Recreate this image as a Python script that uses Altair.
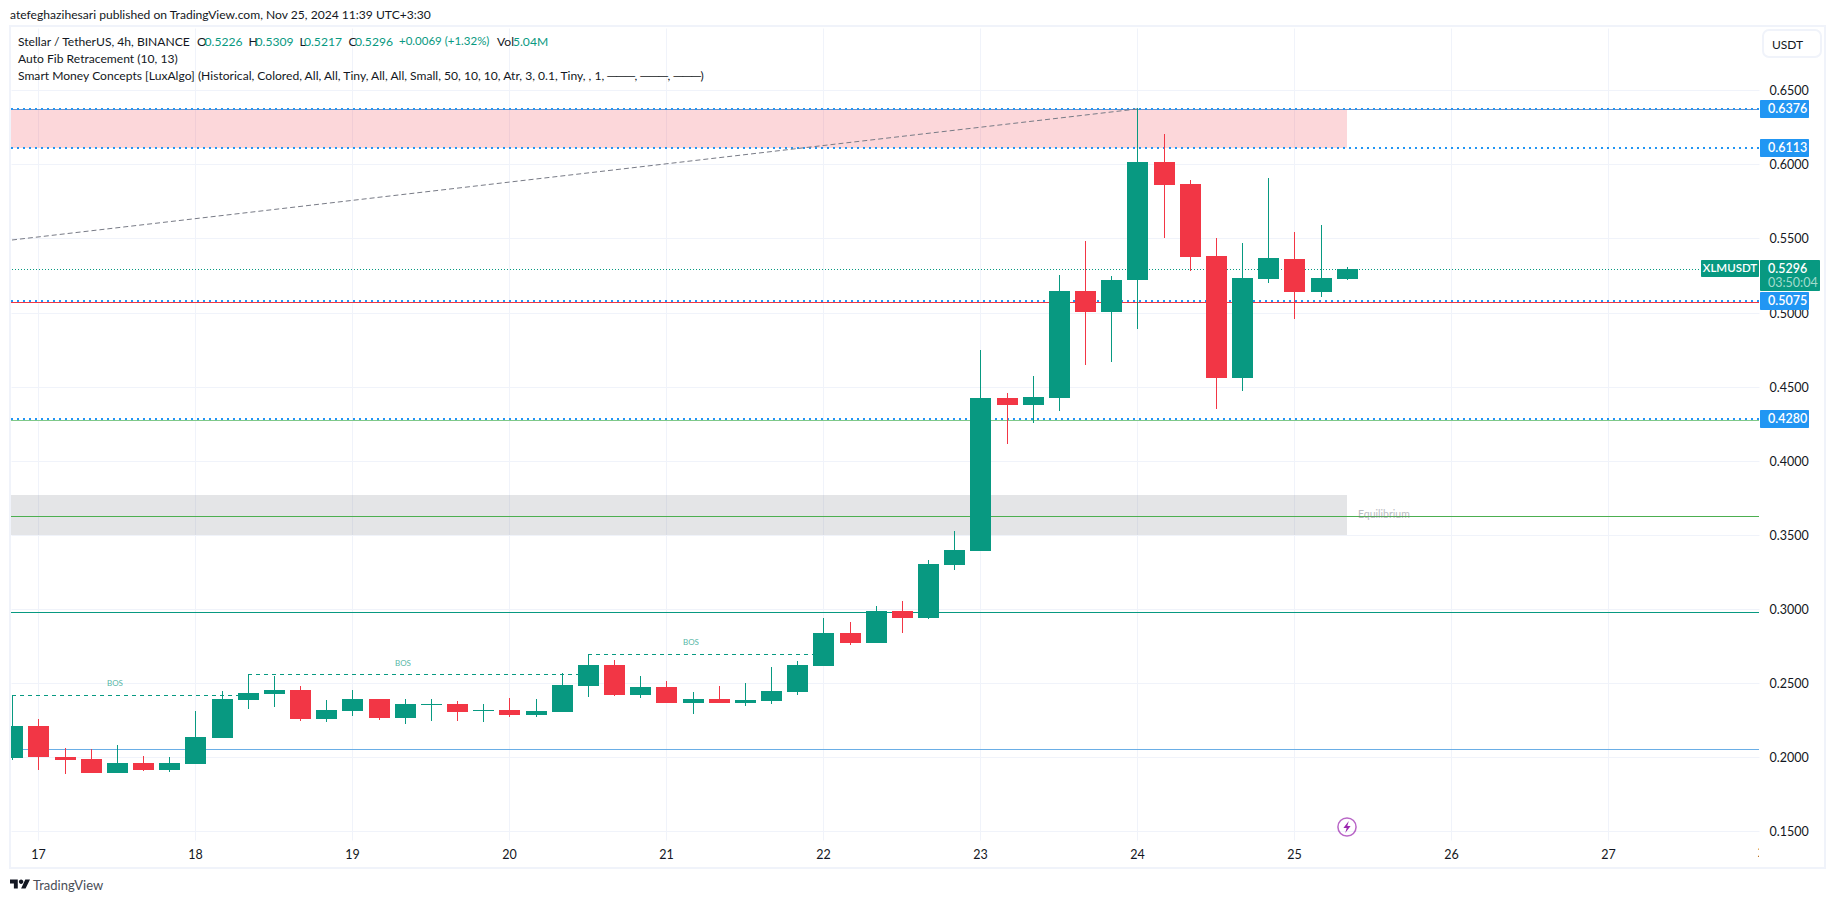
import altair as alt
import pandas as pd

# ---- data ----
days = [16.833, 17.0, 17.167, 17.333, 17.5, 17.667, 17.833, 18.0, 18.167, 18.333, 18.5, 18.667, 18.833,
        19.0, 19.167, 19.333, 19.5, 19.667, 19.833, 20.0, 20.167, 20.333, 20.5, 20.667, 20.833,
        21.0, 21.167, 21.333, 21.5, 21.667, 21.833, 22.0, 22.167, 22.333, 22.5, 22.667, 22.833,
        23.0, 23.167, 23.333, 23.5, 23.667, 23.833, 24.0, 24.167, 24.333, 24.5, 24.667, 24.833,
        25.0, 25.167, 25.333]
opens = [.1991, .2212, .2002, .1989, .1894, .1962, .1914, .1955, .2131, .2387, .2428, .2455, .2259,
         .2313, .2394, .2266, .2354, .2360, .2313, .2320, .2286, .2306, .2482, .2624, .2421,
         .2475, .2367, .2394, .2367, .2381, .2441, .2617, .2840, .2773, .2989, .2941, .3297,
         .3392, .4426, .4378, .4426, .5144, .5002, .5218, .6016, .5867, .5381, .4556, .5225,
         .5360, .5137, .5226]
closes = [.2212, .1998, .1984, .1894, .1962, .1914, .1962, .2137, .2394, .2435, .2455, .2259, .2320,
          .2394, .2266, .2360, .2360, .2306, .2320, .2286, .2313, .2489, .2624, .2421, .2475,
          .2367, .2394, .2367, .2387, .2448, .2624, .2840, .2773, .2989, .2941, .3304, .3399,
          .4426, .4378, .4432, .5144, .5002, .5218, .6016, .5860, .5374, .4556, .5232, .5367,
          .5137, .5232, .5296]
highs = [.2419, .2259, .2063, .2056, .2083, .2009, .2002, .2313, .2448, .2561, .2550, .2482, .2387,
         .2455, .2394, .2394, .2394, .2381, .2360, .2401, .2394, .2570, .2696, .2658, .2550,
         .2516, .2441, .2482, .2502, .2610, .2651, .2941, .2914, .3023, .3056, .3331, .3527,
         .4750, .4459, .4574, .5252, .5482, .5245, .6378, .6205, .5894, .5502, .5468, .5908,
         .5543, .5590, .5309]
lows = [.1984, .1914, .1887, .1894, .1894, .1908, .1901, .1955, .2131, .2327, .2340, .2245, .2239,
        .2279, .2252, .2225, .2245, .2245, .2239, .2273, .2273, .2306, .2408, .2414, .2401,
        .2367, .2293, .2367, .2347, .2360, .2421, .2617, .2759, .2773, .2840, .2934, .3264,
        .3392, .4115, .4257, .4333, .4644, .4664, .4887, .5502, .5279, .4347, .4468, .5198,
        .4955, .5104, .5217]

y_ticks = [.15, .20, .25, .30, .35, .40, .45, .50, .55, .60, .65]
x_ticks = [17, 18, 19, 20, 21, 22, 23, 24, 25, 26, 27]

tag_prices = [.6376, .6113, .5075, .4280]
tag_labels = ["0.6376", "0.6113", "0.5075", "0.4280"]
last_price = .5296
solid_levels = [.6376, .5069, .4272, .3626, .2980, .2054]
solid_colors = ["#6f8fc4", "#f23645", "#7fc98a", "#4caf50", "#089981", "#6aaee6"]
zone_left, zone_right = 16.8, 25.333
zones_low = [.6113, .3500]
zones_high = [.6376, .3771]
zones_color = ["#f23645", "#787b86"]
bos_start = [16.833, 18.333, 20.5]
bos_end = [18.333, 20.5, 22.0]
bos_level = [.2419, .2561, .2696]
bos_label_t = [17.49, 19.32, 21.16]
bos_label_p = [.2491, .2626, .2768]
fib_t = [16.833, 24.0]
fib_p = [.5487, .6376]
event_t, event_p = 25.333, .1530

FONT = "Lato"
TXT = 12.1
INK = "#131722"
TEAL = "#089981"
GRID = "#f0f3fa"

legend_row = [
    ("Stellar / TetherUS, 4h, BINANCE", 7, INK, TXT), ("O", 186, INK, TXT), ("0.5226", 193.6, TEAL, TXT),
    ("H", 237.5, INK, TXT), ("0.5309", 244.6, TEAL, TXT), ("L", 288.5, INK, TXT), ("0.5217", 293, TEAL, TXT),
    ("C", 337.5, INK, TXT), ("0.5296", 344, TEAL, TXT), ("+0.0069 (+1.32%)", 388, TEAL, 11.5),
    ("Vol", 486, INK, TXT), ("5.04M", 502, TEAL, TXT),
]

# ---- frames ----
candles = pd.DataFrame({"t": days, "o": opens, "c": closes, "h": highs, "l": lows})
candles["color"] = [TEAL if c >= o else "#f23645" for o, c in zip(opens, closes)]
one = pd.DataFrame({"a": [0]})

xs = alt.Scale(domain=[16.8261, 27.9599], nice=False, zero=False, padding=0, round=True)
ys = alt.Scale(domain=[.1441, .6920], nice=False, zero=False, padding=0, round=True)
x_axis = alt.Axis(values=x_ticks, format="d", grid=True, gridColor=GRID, gridWidth=1, domain=False, ticks=False,
                  labelFont=FONT, labelFontSize=12.5, labelColor=INK, labelPadding=8, labelFlush=False,
                  labelOverlap=False)
y_axis = alt.Axis(orient="right", values=y_ticks, format=".4f", grid=True, gridColor=GRID, gridWidth=1, domain=False,
                  ticks=False, labelFont=FONT, labelFontSize=12.5, labelColor=INK, labelPadding=10, labelOverlap=False)
X = alt.X("t:Q", scale=xs, title=None, axis=x_axis)
Y = alt.Y("p:Q", scale=ys, title=None, axis=y_axis)
C = alt.Color("color:N", scale=None, legend=None)


def fixed_text(text, x, y, size=TXT, color=INK, align="left", **kw):
    return alt.Chart(one).mark_text(text=text, font=FONT, fontSize=size, color=color, align=align,
                                    baseline="middle", **kw).encode(x=alt.value(x), y=alt.value(y))


def fixed_box(x, x2, y, y2, **kw):
    return alt.Chart(one).mark_rect(**kw).encode(x=alt.value(x), x2=alt.value(x2), y=alt.value(y), y2=alt.value(y2))


frame = fixed_box(-1, 1814, -2, 840, fill="transparent", stroke=GRID, strokeWidth=2)

zones = alt.Chart(pd.DataFrame({"t": [zone_left] * 2, "t2": [zone_right] * 2, "p": zones_low, "p2": zones_high,
                                "color": zones_color})).mark_rect(opacity=0.2, clip=True).encode(
    x=X, x2="t2:Q", y=Y, y2="p2:Q", color=C)

levels = alt.Chart(pd.DataFrame({"p": solid_levels, "color": solid_colors})).mark_rule(
    strokeWidth=1, yOffset=0.5).encode(y=Y, color=C)
dots = alt.Chart(pd.DataFrame({"p": tag_prices})).mark_rule(strokeWidth=2, strokeDash=[2, 4], color="#2196f3").encode(y=Y)
last_line = alt.Chart(pd.DataFrame({"p": [last_price]})).mark_rule(
    strokeWidth=1, strokeDash=[1, 2], color=TEAL, yOffset=0.5).encode(y=Y)

fib = alt.Chart(pd.DataFrame({"t": fib_t, "p": fib_p})).mark_line(
    strokeWidth=1, strokeDash=[5, 3], color="#787b86", clip=True).encode(x=X, y=Y)

bos_lines = alt.Chart(pd.DataFrame({"t": bos_start, "t2": bos_end, "p": bos_level})).mark_rule(
    strokeWidth=1, strokeDash=[4, 4], color=TEAL, yOffset=0.5).encode(x=X, x2="t2:Q", y=Y)
bos_text = alt.Chart(pd.DataFrame({"t": bos_label_t, "p": bos_label_p, "s": ["BOS"] * 3})).mark_text(
    font=FONT, fontSize=8, color=TEAL, opacity=0.7).encode(x=X, y=Y, text="s:N")

eq_text = alt.Chart(pd.DataFrame({"t": [25.406], "p": [.3634], "s": ["Equilibrium"]})).mark_text(
    font=FONT, fontSize=10.5, color="#787b86", opacity=0.5, align="left").encode(x=X, y=Y, text="s:N")

wicks = alt.Chart(candles).mark_rule(strokeWidth=1, clip=True, xOffset=0.5).encode(
    x=X, y=alt.Y("l:Q", scale=ys, title=None, axis=y_axis), y2="h:Q", color=C)
bodies = alt.Chart(candles).mark_bar(size=21, orient="vertical", clip=True, xOffset=0.5).encode(
    x=X, y=alt.Y("o:Q", scale=ys, title=None, axis=y_axis), y2="c:Q", color=C)

ring = alt.Chart(pd.DataFrame({"t": [event_t], "p": [event_p]})).mark_point(
    shape="circle", size=330, filled=False, color="#9c27b0", strokeWidth=1.5).encode(x=X, y=Y)
bolt = alt.Chart(pd.DataFrame({"t": [event_t], "p": [event_p]})).mark_point(
    shape="M0.3,-1L-0.6,0.15L-0.05,0.15L-0.3,1L0.6,-0.15L0.05,-0.15Z", size=144, filled=True,
    color="#9c27b0", opacity=1).encode(x=X, y=Y)

clipped_tick = alt.Chart(pd.DataFrame({"t": [28.0], "s": ["28"]})).mark_text(
    font=FONT, fontSize=12.5, color=INK).encode(x=X, y=alt.value(825), text="s:N")
clip_cover = fixed_box(1748, 1790, 815, 835, fill="#ffffff")

tag_df = pd.DataFrame({"p": tag_prices, "s": tag_labels})
tag_boxes = alt.Chart(tag_df).mark_bar(size=18, orient="horizontal", color="#2196f3", cornerRadius=1).encode(
    y=Y, x=alt.value(1749), x2=alt.value(1798))
tag_text = alt.Chart(tag_df).mark_text(font=FONT, fontSize=12.5, fontWeight=600, color="#ffffff", align="left").encode(
    y=Y, x=alt.value(1757), text="s:N")

last_box = fixed_box(1749, 1809, 232, 263, fill=TEAL, cornerRadius=1)
sym_box = fixed_box(1690, 1748, 232, 249, fill=TEAL, cornerRadius=1)
last_df = pd.DataFrame({"p": [last_price], "s": ["0.5296"], "n": ["XLMUSDT"]})
last_text = alt.Chart(last_df).mark_text(font=FONT, fontSize=12.5, fontWeight=600, color="#ffffff", align="left").encode(
    y=Y, x=alt.value(1757), text="s:N")
sym_text = alt.Chart(last_df).mark_text(font=FONT, fontSize=11.5, fontWeight=600, color="#ffffff", align="center").encode(
    y=Y, x=alt.value(1719), text="n:N")
countdown = fixed_text("03:50:04", 1757, 254.5, size=12.5, color="#a3dccd")

usdt_box = fixed_box(1752, 1810, 2, 29, fill="#ffffff", stroke=GRID, strokeWidth=2, cornerRadius=6)
usdt_text = fixed_text("USDT", 1761, 16.5, size=12)

header = fixed_text("atefeghazihesari published on TradingView.com, Nov 25, 2024 11:39 UTC+3:30", -1, -13)
row1 = [fixed_text(s, x, 13.5, size=sz, color=col) for s, x, col, sz in legend_row]
row2 = fixed_text("Auto Fib Retracement (10, 13)", 7, 31)
row3 = fixed_text("Smart Money Concepts [LuxAlgo] (Historical, Colored, All, All, Tiny, All, All, Small, 50, 10, 10, "
                  "Atr, 3, 0.1, Tiny, , 1, ───, ───, ───)", 7, 48)

logo_path = ("M-1,-0.444L-0.222,-0.444L-0.222,0.444L-0.611,0.444L-0.611,-0.056L-1,-0.056Z"
             "M0.556,0.444L0.111,0.444L0.528,-0.444L1,-0.444Z"
             "M-0.111,-0.222a0.222,0.222 0 1,0 0.444,0a0.222,0.222 0 1,0 -0.444,0Z")
logo = alt.Chart(one).mark_point(shape=logo_path, size=400, filled=True, color=INK, opacity=1).encode(
    x=alt.value(9), y=alt.value(856))
logo_text = fixed_text("TradingView", 22, 858, size=13, color="#4a4e57")

chart = alt.layer(
    frame, zones, levels, dots, last_line, fib, bos_lines, bos_text, eq_text, wicks, bodies,
    ring, bolt, clipped_tick, clip_cover, tag_boxes, tag_text, sym_box, last_box, last_text, sym_text, countdown,
    usdt_box, usdt_text, header, *row1, row2, row3, logo, logo_text,
).properties(
    width=1748, height=812,
    padding={"left": 3, "top": 20, "right": 68, "bottom": 54},
    autosize=alt.AutoSizeParams(type="none"),
    background="#ffffff",
).configure_view(strokeWidth=0)

chart.save("out.html", embed_options={"renderer": "svg", "actions": False})
